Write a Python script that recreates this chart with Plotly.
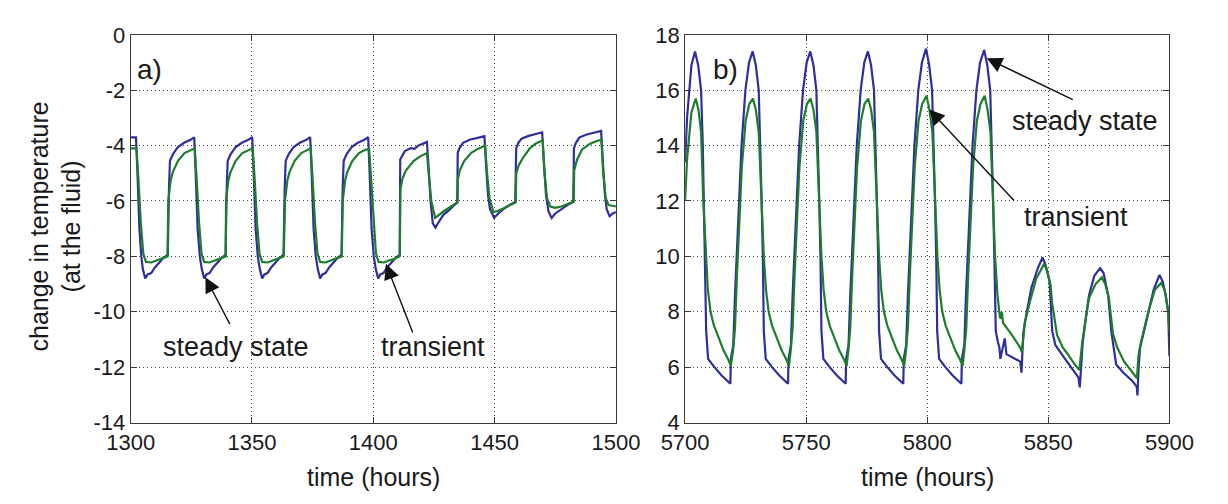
import plotly.graph_objects as go

# ---------------- data: panel a) ----------------
a_steady_t = [1300.0, 1302.2, 1302.8, 1303.6, 1304.4, 1305.0, 1306.0, 1307.0, 1308.5, 1310.0, 1312.0, 1313.5, 1315.3,
              1315.5, 1315.8, 1316.2, 1317.5, 1319.5, 1322.0, 1324.5, 1326.2,
              1326.8, 1327.6, 1328.5, 1329.3, 1330.3, 1331.2, 1332.5, 1334.0, 1336.0, 1337.5, 1339.1,
              1339.3, 1339.6, 1340.0, 1341.3, 1343.3, 1345.8, 1348.3, 1350.1,
              1350.7, 1351.5, 1352.4, 1353.2, 1354.2, 1355.1, 1356.4, 1357.9, 1359.9, 1361.4, 1363.0,
              1363.2, 1363.5, 1363.9, 1365.2, 1367.2, 1369.7, 1372.2, 1374.0,
              1374.6, 1375.4, 1376.3, 1377.1, 1378.1, 1379.0, 1380.3, 1381.8, 1383.8, 1385.3, 1386.9,
              1387.1, 1387.4, 1387.8, 1389.1, 1391.1, 1393.6, 1396.1, 1397.9,
              1398.5, 1399.3, 1400.2, 1401.0, 1402.0, 1402.9, 1404.2, 1405.7, 1407.7, 1409.2, 1410.9,
              1411.1, 1413.0, 1415.5, 1417.0, 1418.5, 1420.8, 1422.1,
              1422.8, 1423.6, 1424.5, 1425.6, 1427.0, 1428.9, 1431.0, 1432.9, 1434.6,
              1434.8, 1435.5, 1437.0, 1440.0, 1443.0, 1445.8,
              1446.4, 1447.3, 1448.1, 1449.8, 1451.5, 1453.5, 1456.0, 1458.5,
              1458.9, 1459.8, 1461.1, 1464.0, 1467.0, 1469.6,
              1470.3, 1471.2, 1472.2, 1473.5, 1475.0, 1477.5, 1480.0, 1482.4,
              1482.7, 1483.5, 1485.0, 1488.0, 1491.0, 1493.9,
              1494.6, 1495.5, 1496.2, 1497.4, 1498.7, 1500.0]
a_steady = [-3.70, -3.70, -5.0, -7.0, -8.0, -8.45, -8.80, -8.65, -8.60, -8.40, -8.20, -8.05, -7.95,
            -5.60, -5.50, -4.55, -4.30, -4.05, -3.90, -3.80, -3.70,
            -5.0, -7.0, -8.0, -8.45, -8.80, -8.65, -8.60, -8.40, -8.20, -8.05, -7.95,
            -5.60, -5.50, -4.55, -4.30, -4.05, -3.90, -3.80, -3.70,
            -5.0, -7.0, -8.0, -8.45, -8.80, -8.65, -8.60, -8.40, -8.20, -8.05, -7.95,
            -5.60, -5.50, -4.55, -4.30, -4.05, -3.90, -3.80, -3.70,
            -5.0, -7.0, -8.0, -8.45, -8.80, -8.65, -8.60, -8.40, -8.20, -8.05, -7.95,
            -5.60, -5.50, -4.55, -4.30, -4.05, -3.90, -3.80, -3.70,
            -5.0, -7.0, -8.0, -8.45, -8.80, -8.65, -8.60, -8.40, -8.20, -8.05, -7.95,
            -4.50, -4.20, -4.09, -4.12, -4.00, -3.92, -3.87,
            -4.8, -6.0, -6.8, -6.96, -6.75, -6.50, -6.35, -6.21, -6.05,
            -4.25, -4.10, -3.90, -3.78, -3.72, -3.66,
            -4.6, -5.8, -6.30, -6.61, -6.45, -6.30, -6.15, -6.04,
            -4.10, -3.90, -3.75, -3.65, -3.58, -3.52,
            -4.6, -5.8, -6.38, -6.61, -6.45, -6.30, -6.15, -6.04,
            -4.10, -3.90, -3.70, -3.60, -3.52, -3.47,
            -4.6, -5.8, -6.30, -6.55, -6.45, -6.40]

a_trans_t = [1300.0, 1302.4, 1303.2, 1304.2, 1305.2, 1306.3, 1308.5, 1310.5, 1312.5, 1315.2,
             1315.5, 1315.9, 1316.5, 1317.4, 1319.5, 1322.2, 1324.8, 1326.4,
             1327.2, 1328.2, 1329.2, 1330.3, 1332.5, 1334.5, 1336.5, 1339.2,
             1339.3, 1339.7, 1340.3, 1341.2, 1343.3, 1346.0, 1348.6, 1350.3,
             1351.1, 1352.1, 1353.1, 1354.2, 1356.4, 1358.4, 1360.4, 1363.1,
             1363.6, 1364.0, 1364.6, 1365.5, 1367.6, 1370.3, 1372.9, 1374.2,
             1375.0, 1376.0, 1377.0, 1378.1, 1380.3, 1382.3, 1384.3, 1387.0,
             1387.4, 1387.8, 1388.4, 1389.3, 1391.4, 1394.1, 1396.7, 1398.3,
             1399.1, 1400.1, 1401.1, 1402.2, 1404.4, 1406.4, 1408.4, 1410.9,
             1411.2, 1412.0, 1413.4, 1416.7, 1419.5, 1422.1,
             1422.9, 1423.9, 1425.5, 1427.0, 1428.9, 1432.0, 1434.7,
             1434.9, 1435.6, 1437.5, 1440.5, 1443.5, 1446.1,
             1446.9, 1447.9, 1449.5, 1451.5, 1454.0, 1456.5, 1458.7,
             1458.9, 1460.0, 1461.7, 1464.5, 1467.0, 1469.8,
             1470.6, 1471.6, 1473.0, 1475.0, 1477.5, 1480.0, 1482.6,
             1482.8, 1484.0, 1486.0, 1489.0, 1491.5, 1494.0,
             1494.8, 1495.8, 1497.0, 1500.0]
a_trans = [-4.10, -4.10, -5.2, -6.8, -7.9, -8.20, -8.22, -8.15, -8.10, -8.00,
           -6.00, -5.60, -5.25, -4.95, -4.55, -4.27, -4.15, -4.10,
           -5.2, -6.8, -7.9, -8.20, -8.22, -8.15, -8.10, -8.00,
           -6.00, -5.60, -5.25, -4.95, -4.55, -4.27, -4.15, -4.10,
           -5.2, -6.8, -7.9, -8.20, -8.22, -8.15, -8.10, -8.00,
           -6.00, -5.60, -5.25, -4.95, -4.55, -4.27, -4.15, -4.10,
           -5.2, -6.8, -7.9, -8.20, -8.22, -8.15, -8.10, -8.00,
           -6.00, -5.60, -5.25, -4.95, -4.55, -4.27, -4.15, -4.13,
           -5.2, -6.8, -7.9, -8.20, -8.22, -8.15, -8.10, -8.00,
           -5.58, -5.20, -4.90, -4.55, -4.38, -4.27,
           -5.0, -6.0, -6.61, -6.50, -6.38, -6.20, -6.05,
           -5.20, -4.90, -4.55, -4.25, -4.10, -4.00,
           -5.0, -5.9, -6.40, -6.35, -6.25, -6.15, -6.05,
           -5.00, -4.70, -4.44, -4.10, -3.92, -3.81,
           -5.0, -5.9, -6.20, -6.25, -6.20, -6.10, -6.02,
           -4.90, -4.50, -4.15, -3.95, -3.85, -3.79,
           -5.0, -5.9, -6.15, -6.20]

# ---------------- data: panel b) ----------------
b_steady_t = [5700.0, 5700.8, 5702.6, 5704.1, 5705.4, 5706.6, 5707.3, 5707.8, 5708.3, 5708.7, 5709.5, 5712.1, 5715.1, 5718.7,
              5718.9, 5719.9, 5720.6, 5721.5, 5722.3, 5723.3, 5724.9, 5726.4, 5727.9, 5729.2, 5730.4, 5731.1, 5731.6, 5732.1, 5732.5, 5733.3, 5735.9, 5738.9, 5742.5,
              5742.7, 5743.7, 5744.4, 5745.3, 5746.1, 5747.1, 5748.7, 5750.2, 5751.7, 5753.0, 5754.2, 5754.9, 5755.4, 5755.9, 5756.3, 5757.1, 5759.7, 5762.7, 5766.3,
              5766.5, 5767.5, 5768.2, 5769.1, 5769.9, 5770.9, 5772.5, 5774.0, 5775.5, 5776.8, 5778.0, 5778.7, 5779.2, 5779.7, 5780.1, 5780.9, 5783.5, 5786.5, 5790.1,
              5790.3, 5791.3, 5792.0, 5792.9, 5793.7, 5794.7, 5796.3, 5797.8, 5799.5, 5800.8, 5802.0, 5802.7, 5803.2, 5803.7, 5804.1, 5804.9, 5807.5, 5810.5, 5814.1,
              5814.3, 5815.3, 5816.0, 5816.9, 5817.7, 5818.7, 5820.3, 5821.8, 5823.5, 5824.8, 5826.0, 5826.7, 5827.2, 5827.7, 5828.3,
              5829.2, 5829.8, 5830.2, 5831.0, 5832.0, 5832.7, 5835.0, 5838.4, 5838.9,
              5839.7, 5841.0, 5843.0, 5845.6, 5847.6, 5848.8, 5850.5, 5851.6, 5852.9, 5856.9, 5860.0, 5862.4, 5863.0,
              5863.6, 5864.2, 5865.5, 5866.8, 5869.0, 5871.4, 5872.8, 5874.7, 5876.0, 5878.0, 5881.0, 5884.7, 5886.5, 5886.8,
              5887.3, 5887.9, 5889.5, 5891.3, 5893.5, 5895.9, 5897.2, 5898.5, 5899.5, 5900.0]
b_steady = [13.4, 15.0, 16.9, 17.4, 16.9, 16.0, 14.0, 12.0, 10.0, 7.3, 6.3, 6.0, 5.7, 5.4,
            6.3, 6.8, 8.6, 10.5, 12.0, 14.0, 16.0, 17.0, 17.4, 16.9, 16.0, 14.0, 12.0, 10.0, 7.3, 6.3, 6.0, 5.7, 5.4,
            6.3, 6.8, 8.6, 10.5, 12.0, 14.0, 16.0, 17.0, 17.4, 16.9, 16.0, 14.0, 12.0, 10.0, 7.3, 6.3, 6.0, 5.7, 5.4,
            6.3, 6.8, 8.6, 10.5, 12.0, 14.0, 16.0, 17.0, 17.4, 16.9, 16.0, 14.0, 12.0, 10.0, 7.3, 6.3, 6.0, 5.7, 5.4,
            6.3, 6.8, 8.6, 10.5, 12.0, 14.0, 16.0, 17.0, 17.5, 16.9, 16.0, 14.0, 12.0, 10.0, 7.3, 6.3, 6.0, 5.7, 5.4,
            6.3, 6.8, 8.6, 10.5, 12.0, 14.0, 16.0, 17.0, 17.45, 16.9, 16.0, 14.0, 12.0, 10.0, 7.3,
            6.9, 6.7, 6.3, 6.6, 7.04, 6.47, 6.35, 6.2, 5.8,
            7.27, 7.96, 8.87, 9.56, 9.96, 9.7, 9.1, 7.3, 6.8, 6.3, 5.9, 5.63, 5.27,
            6.2, 6.9, 7.8, 8.6, 9.3, 9.58, 9.4, 8.6, 7.3, 6.1, 5.8, 5.5, 5.3, 4.98,
            6.0, 6.7, 7.3, 8.0, 8.8, 9.33, 9.1, 8.6, 8.0, 6.4]

b_trans_t = [5700.0, 5700.8, 5702.6, 5704.4, 5705.5, 5706.6, 5707.5, 5708.5, 5709.4, 5710.5, 5711.9, 5713.7, 5715.9, 5717.7, 5718.9,
             5719.8, 5720.6, 5721.4, 5722.4, 5723.4, 5725.0, 5726.5, 5728.0, 5729.2, 5730.4, 5731.5, 5732.5, 5733.4, 5734.5, 5735.9, 5737.7, 5739.9, 5741.7, 5742.9,
             5743.6, 5744.4, 5745.2, 5746.2, 5747.2, 5748.8, 5750.3, 5751.8, 5753.0, 5754.2, 5755.3, 5756.3, 5757.2, 5758.3, 5759.7, 5761.5, 5763.7, 5765.5, 5766.7,
             5767.4, 5768.2, 5769.0, 5770.0, 5771.0, 5772.6, 5774.1, 5775.6, 5776.8, 5778.0, 5779.1, 5780.1, 5781.0, 5782.1, 5783.5, 5785.3, 5787.5, 5789.3, 5790.5,
             5791.2, 5792.0, 5792.8, 5793.8, 5794.8, 5796.4, 5797.9, 5799.7, 5800.9, 5802.1, 5803.2, 5804.2, 5805.1, 5806.2, 5807.6, 5809.4, 5811.6, 5813.4, 5814.6,
             5815.3, 5816.1, 5816.9, 5817.9, 5818.9, 5820.5, 5822.0, 5823.7, 5824.9, 5826.1, 5827.2, 5828.0,
             5829.0, 5830.0, 5830.4, 5830.8, 5831.3, 5833.0, 5835.0, 5838.4, 5839.0,
             5839.6, 5840.3, 5842.5, 5845.0, 5848.3, 5849.5, 5850.9, 5851.6, 5853.6, 5856.0, 5858.2, 5860.5, 5862.8,
             5863.4, 5864.0, 5866.8, 5869.5, 5872.1, 5873.5, 5875.0, 5876.7, 5878.5, 5881.3, 5884.0, 5886.6,
             5887.2, 5888.0, 5891.3, 5894.0, 5896.6, 5898.0, 5899.5, 5900.0]
b_trans = [12.0, 13.5, 15.2, 15.7, 15.3, 14.5, 12.0, 10.0, 8.8, 8.0, 7.5, 7.1, 6.6, 6.3, 6.05,
           6.6, 7.4, 9.3, 11.3, 13.2, 14.9, 15.5, 15.7, 15.3, 14.5, 12.0, 10.0, 8.8, 8.0, 7.5, 7.1, 6.6, 6.3, 6.05,
           6.6, 7.4, 9.3, 11.3, 13.2, 14.9, 15.5, 15.7, 15.3, 14.5, 12.0, 10.0, 8.8, 8.0, 7.5, 7.1, 6.6, 6.3, 6.05,
           6.6, 7.4, 9.3, 11.3, 13.2, 14.9, 15.5, 15.7, 15.3, 14.5, 12.0, 10.0, 8.8, 8.0, 7.5, 7.1, 6.6, 6.3, 6.05,
           6.6, 7.4, 9.3, 11.3, 13.2, 14.9, 15.5, 15.8, 15.3, 14.5, 12.0, 10.0, 8.8, 8.0, 7.5, 7.1, 6.6, 6.3, 6.05,
           6.6, 7.4, 9.3, 11.3, 13.2, 14.9, 15.5, 15.8, 15.3, 14.5, 12.0, 10.0,
           8.6, 7.8, 7.75, 8.0, 7.6, 7.4, 7.16, 6.7, 6.55,
           7.0, 7.61, 8.4, 9.2, 9.73, 9.5, 8.98, 8.3, 7.16, 6.7, 6.45, 6.15, 5.9,
           6.5, 6.9, 8.5, 9.0, 9.24, 9.0, 8.5, 7.2, 6.7, 6.2, 5.9, 5.6,
           6.4, 6.8, 8.0, 8.8, 9.04, 8.8, 8.0, 7.3]

# ---------------- axes / labels ----------------
a_xticks = [1300, 1350, 1400, 1450, 1500]
a_yticks = [-14, -12, -10, -8, -6, -4, -2, 0]
a_ytext = ["-14", "-12", "-10", "-8", "-6", "-4", "-2", "0"]
b_xticks = [5700, 5750, 5800, 5850, 5900]
b_yticks = [4, 6, 8, 10, 12, 14, 16, 18]

BLUE = "#2e2e9e"
GREEN = "#1d7d2b"
FONT = "Liberation Sans, Arial, sans-serif"
INK = "#1a1a1a"
W, H = 1228, 504

fig = go.Figure()
fig.add_trace(go.Scatter(x=a_steady_t, y=a_steady, mode="lines", line=dict(color=BLUE, width=2.2),
                         xaxis="x", yaxis="y", name="steady state"))
fig.add_trace(go.Scatter(x=a_trans_t, y=a_trans, mode="lines", line=dict(color=GREEN, width=2.2),
                         xaxis="x", yaxis="y", name="transient"))
fig.add_trace(go.Scatter(x=b_steady_t, y=b_steady, mode="lines", line=dict(color=BLUE, width=2.2),
                         xaxis="x2", yaxis="y2", name="steady state"))
fig.add_trace(go.Scatter(x=b_trans_t, y=b_trans, mode="lines", line=dict(color=GREEN, width=2.2),
                         xaxis="x2", yaxis="y2", name="transient"))

ax_common = dict(showline=True, linecolor="#3a3a3a", linewidth=1, mirror="ticks",
                 ticks="inside", ticklen=6, tickcolor="#3a3a3a",
                 showgrid=True, gridcolor="#444444", griddash="1px,3px", gridwidth=1,
                 zeroline=False, tickfont=dict(family=FONT, size=22, color=INK))

ydom = [72 / H, 480 / H]
fig.update_layout(
    width=W, height=H, margin=dict(l=0, r=0, t=0, b=0),
    paper_bgcolor="white", plot_bgcolor="white", showlegend=False,
    font=dict(family=FONT, color=INK),
    xaxis=dict(domain=[111 / W, 616 / W], range=[1300, 1500], tickvals=a_xticks, anchor="y", **ax_common),
    yaxis=dict(domain=ydom, range=[-14, 0], tickvals=a_yticks, ticktext=a_ytext, anchor="x", **ax_common),
    xaxis2=dict(domain=[688 / W, 1192 / W], range=[5700, 5900], tickvals=b_xticks, anchor="y2", **ax_common),
    yaxis2=dict(domain=ydom, range=[4, 18], tickvals=b_yticks, anchor="x2", **ax_common),
)

def txt(x, y, s, size=20, xref="paper", yref="paper", **kw):
    fig.add_annotation(x=x, y=y, text=s, showarrow=False, xref=xref, yref=yref,
                       xanchor="center", yanchor="middle",
                       font=dict(family=FONT, size=size, color=INK), **kw)

# axis titles
txt(363.5 / W, 1 - 489 / H, "time (hours)", size=25)
txt(940 / W, 1 - 489 / H, "time (hours)", size=25)
txt(33 / W, 1 - 226 / H, "change in temperature<br>(at the fluid)", size=25, textangle=-90)

# panel labels
txt(1307.9, -1.24, "a)", size=28, xref="x", yref="y")
txt(5716.7, 16.76, "b)", size=28, xref="x2", yref="y2")

# callout texts
txt(1343.6, -11.26, "steady state", size=27, xref="x", yref="y")
txt(1424.8, -11.26, "transient", size=27, xref="x", yref="y")
txt(5865.1, 14.88, "steady state", size=27, xref="x2", yref="y2")
txt(5861.5, 11.41, "transient", size=27, xref="x2", yref="y2")

def arrow(x0, y0, x1, y1, xr, yr):
    fig.add_annotation(x=x1, y=y1, ax=x0, ay=y0, xref=xr, yref=yr, axref=xr, ayref=yr,
                       text="", showarrow=True, arrowhead=2, arrowsize=2.2, arrowwidth=1.4,
                       arrowcolor="#111111", standoff=0, startstandoff=0)

arrow(1341.2, -10.5, 1330.8, -8.75, "x", "y")
arrow(1416.5, -10.8, 1405.2, -8.27, "x", "y")
arrow(5860.7, 15.63, 5824.6, 17.15, "x2", "y2")
arrow(5836.4, 11.96, 5800.8, 15.3, "x2", "y2")

fig.write_html("out.html")
